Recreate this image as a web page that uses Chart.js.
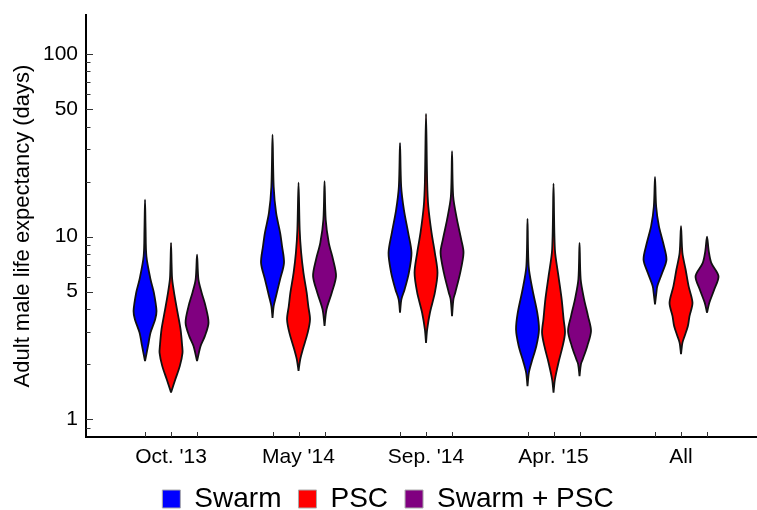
<!DOCTYPE html>
<html>
<head>
<meta charset="utf-8">
<script src="https://cdn.jsdelivr.net/npm/chart.js@4.4.1/dist/chart.umd.min.js"></script>
<style>
html, body { margin: 0; padding: 0; background: #fff; }
#wrap { width: 757px; height: 510px; }
</style>
</head>
<body>
<div id="wrap"><canvas id="chart" width="757" height="510"></canvas></div>
<script>
var categories = ["Oct. '13", "May '14", "Sep. '14", "Apr. '15", "All"];
var seriesNames = ["Swarm", "PSC", "Swarm + PSC"];

// violin profiles, bottom to top: [days, relative density width]
var swarmViolins = [
    [[2.08,0],[2.52,0.26],[2.98,0.48],[3.52,0.88],[3.91,1.0],[4.93,0.77],[5.83,0.48],[7.8,0.12],[10.9,0.05],[15.9,0]],
    [[3.59,0],[4.16,0.1],[4.73,0.31],[5.83,0.66],[7.18,1.0],[8.85,0.83],[10.5,0.66],[13.5,0.31],[18.8,0.1],[36.1,0]],
    [[3.83,0],[4.53,0.12],[5.13,0.4],[6.33,0.77],[8.15,1.0],[10.5,0.71],[14.0,0.34],[18.8,0.1],[32.5,0]],
    [[1.52,0],[1.80,0.12],[2.04,0.34],[2.52,0.77],[3.10,1.0],[3.83,0.85],[5.13,0.43],[6.88,0.1],[12.5,0]],
    [[4.25,0],[4.93,0.12],[5.35,0.2],[6.33,0.63],[7.49,1.0],[9.24,0.71],[11.4,0.34],[14.6,0.1],[21.2,0]]
];
var pscViolins = [
    [[1.40,0],[1.65,0.37],[1.96,0.77],[2.31,1.0],[2.52,0.97],[3.10,0.83],[3.83,0.57],[4.73,0.31],[5.83,0.1],[7.0,0.05],[9.24,0]],
    [[1.84,0],[2.13,0.15],[2.41,0.37],[2.98,0.8],[3.52,1.0],[4.16,0.85],[4.93,0.71],[6.33,0.43],[8.15,0.23],[10.9,0.1],[19.7,0]],
    [[2.62,0],[3.10,0.1],[3.83,0.34],[4.93,0.77],[6.33,1.0],[8.15,0.77],[10.5,0.48],[14.6,0.2],[19.7,0.1],[47.0,0]],
    [[1.40,0],[1.65,0.12],[2.04,0.43],[2.52,0.8],[2.98,1.0],[3.52,0.88],[4.53,0.71],[6.07,0.43],[8.49,0.12],[19.5,0]],
    [[2.27,0],[2.62,0.12],[2.85,0.31],[3.24,0.6],[3.67,0.74],[4.34,1.0],[5.35,0.66],[6.6,0.4],[8.15,0.12],[11.4,0]]
];
var bothViolins = [
    [[2.08,0],[2.52,0.31],[2.85,0.68],[3.38,1.0],[4.16,0.74],[4.93,0.4],[5.83,0.12],[7.97,0]],
    [[3.24,0],[3.99,0.17],[4.93,0.63],[6.07,1.0],[7.49,0.74],[9.24,0.37],[12.4,0.1],[20.1,0]],
    [[3.67,0],[4.53,0.12],[4.93,0.28],[6.33,0.71],[8.15,1.0],[9.63,0.8],[12.4,0.43],[16.6,0.1],[29.3,0]],
    [[1.72,0],[2.0,0.12],[2.13,0.28],[2.52,0.68],[3.04,1.0],[3.67,0.74],[4.53,0.4],[5.83,0.1],[9.24,0]],
    [[3.83,0],[4.34,0.2],[5.13,0.63],[6.07,1.0],[7.18,0.37],[8.32,0.15],[10.0,0]]
];

var yTickLabels = [1, 5, 10, 50, 100];
var yMinorTicks = [0.9, 2, 3, 4, 6, 7, 8, 9, 20, 30, 40, 60, 70, 80, 90];

var allViolins = [swarmViolins, pscViolins, bothViolins];
var seriesColors = ['#0000ff', '#ff0000', '#800080'];
var groupOffset = 0.204;   // spacing of violins inside a group (x units)
var halfWidth = 0.09;      // half width of a violin at its widest (x units)
var font = '"Liberation Sans", Arial, Helvetica, sans-serif';

// turn a density profile into a closed outline around its centre
function outline(profile, center) {
    var right = profile.map(function (p) {
        return { x: center + p[1] * halfWidth, y: p[0] };
    });
    var left = profile.slice(0, -1).reverse().map(function (p) {
        return { x: center - p[1] * halfWidth, y: p[0] };
    });
    return right.concat(left);
}

var datasets = [];
allViolins.forEach(function (violins, s) {
    violins.forEach(function (profile, i) {
        datasets.push({
            label: seriesNames[s],
            data: outline(profile, i + (s - 1) * groupOffset),
            backgroundColor: seriesColors[s],
            borderColor: '#111',
            borderWidth: 1.8,
            fill: 'shape',
            pointRadius: 0,
            tension: 0.3
        });
    });
});

// small inward ticks on both axes
var tickMarks = {
    id: 'tickMarks',
    afterDraw: function (chart) {
        var ctx = chart.ctx, area = chart.chartArea;
        var xs = chart.scales.x, ys = chart.scales.y;
        ctx.save();
        ctx.strokeStyle = '#333';
        ctx.lineWidth = 1;
        ctx.beginPath();
        yTickLabels.forEach(function (v) {
            var py = Math.round(ys.getPixelForValue(v)) + 0.5;
            ctx.moveTo(area.left, py);
            ctx.lineTo(area.left + 7, py);
        });
        yMinorTicks.forEach(function (v) {
            var py = Math.round(ys.getPixelForValue(v)) + 0.5;
            ctx.moveTo(area.left, py);
            ctx.lineTo(area.left + 4.5, py);
        });
        categories.forEach(function (c, i) {
            [-1, 0, 1].forEach(function (k) {
                var px = Math.round(xs.getPixelForValue(i + k * groupOffset)) + 0.5;
                ctx.moveTo(px, area.bottom);
                ctx.lineTo(px, area.bottom - 5);
            });
        });
        ctx.stroke();
        ctx.restore();
    }
};

Chart.defaults.color = '#000';
Chart.defaults.font.family = font;

var myChart = new Chart(document.getElementById('chart'), {
    type: 'line',
    data: { datasets: datasets },
    plugins: [tickMarks],
    options: {
        responsive: false,
        animation: false,
        devicePixelRatio: 1,
        layout: { padding: { top: 15, left: 19, right: 0, bottom: -13 } },
        plugins: {
            tooltip: { enabled: false },
            legend: {
                position: 'bottom',
                labels: {
                    boxWidth: 18,
                    boxHeight: 18,
                    padding: 17,
                    font: { size: 28, family: font },
                    generateLabels: function () {
                        return seriesNames.map(function (name, s) {
                            return {
                                text: name,
                                fillStyle: seriesColors[s],
                                strokeStyle: '#aaa',
                                lineWidth: 1,
                                hidden: false,
                                datasetIndex: s * categories.length
                            };
                        });
                    }
                }
            }
        },
        scales: {
            x: {
                type: 'linear',
                min: -0.667,
                max: 4.596,
                grid: { display: true, drawOnChartArea: false, drawTicks: false },
                border: { display: true, color: '#000', width: 2 },
                afterBuildTicks: function (scale) {
                    scale.ticks = categories.map(function (c, i) { return { value: i }; });
                },
                afterFit: function (scale) { scale.height = 31; },
                ticks: {
                    autoSkip: false,
                    maxRotation: 0,
                    padding: 10,
                    font: { size: 21, family: font, lineHeight: 1 },
                    callback: function (value, index) { return categories[index]; }
                }
            },
            y: {
                type: 'logarithmic',
                min: 0.8,
                max: 163,
                grid: { display: true, drawOnChartArea: false, drawTicks: false },
                border: { display: true, color: '#000', width: 2 },
                afterBuildTicks: function (scale) {
                    scale.ticks = yTickLabels.map(function (v) { return { value: v }; });
                },
                afterFit: function (scale) {
                    scale.width = 67;
                    scale.paddingTop = 0;
                    scale.paddingBottom = 0;
                },
                ticks: {
                    autoSkip: false,
                    padding: 8,
                    font: { size: 21, family: font, lineHeight: 1 },
                    callback: function (value) { return String(value); }
                },
                title: {
                    display: true,
                    text: 'Adult male life expectancy (days)',
                    font: { size: 22, family: font, lineHeight: 1 },
                    padding: { top: -7, bottom: 0 }
                }
            }
        }
    }
});
</script>
</body>
</html>
